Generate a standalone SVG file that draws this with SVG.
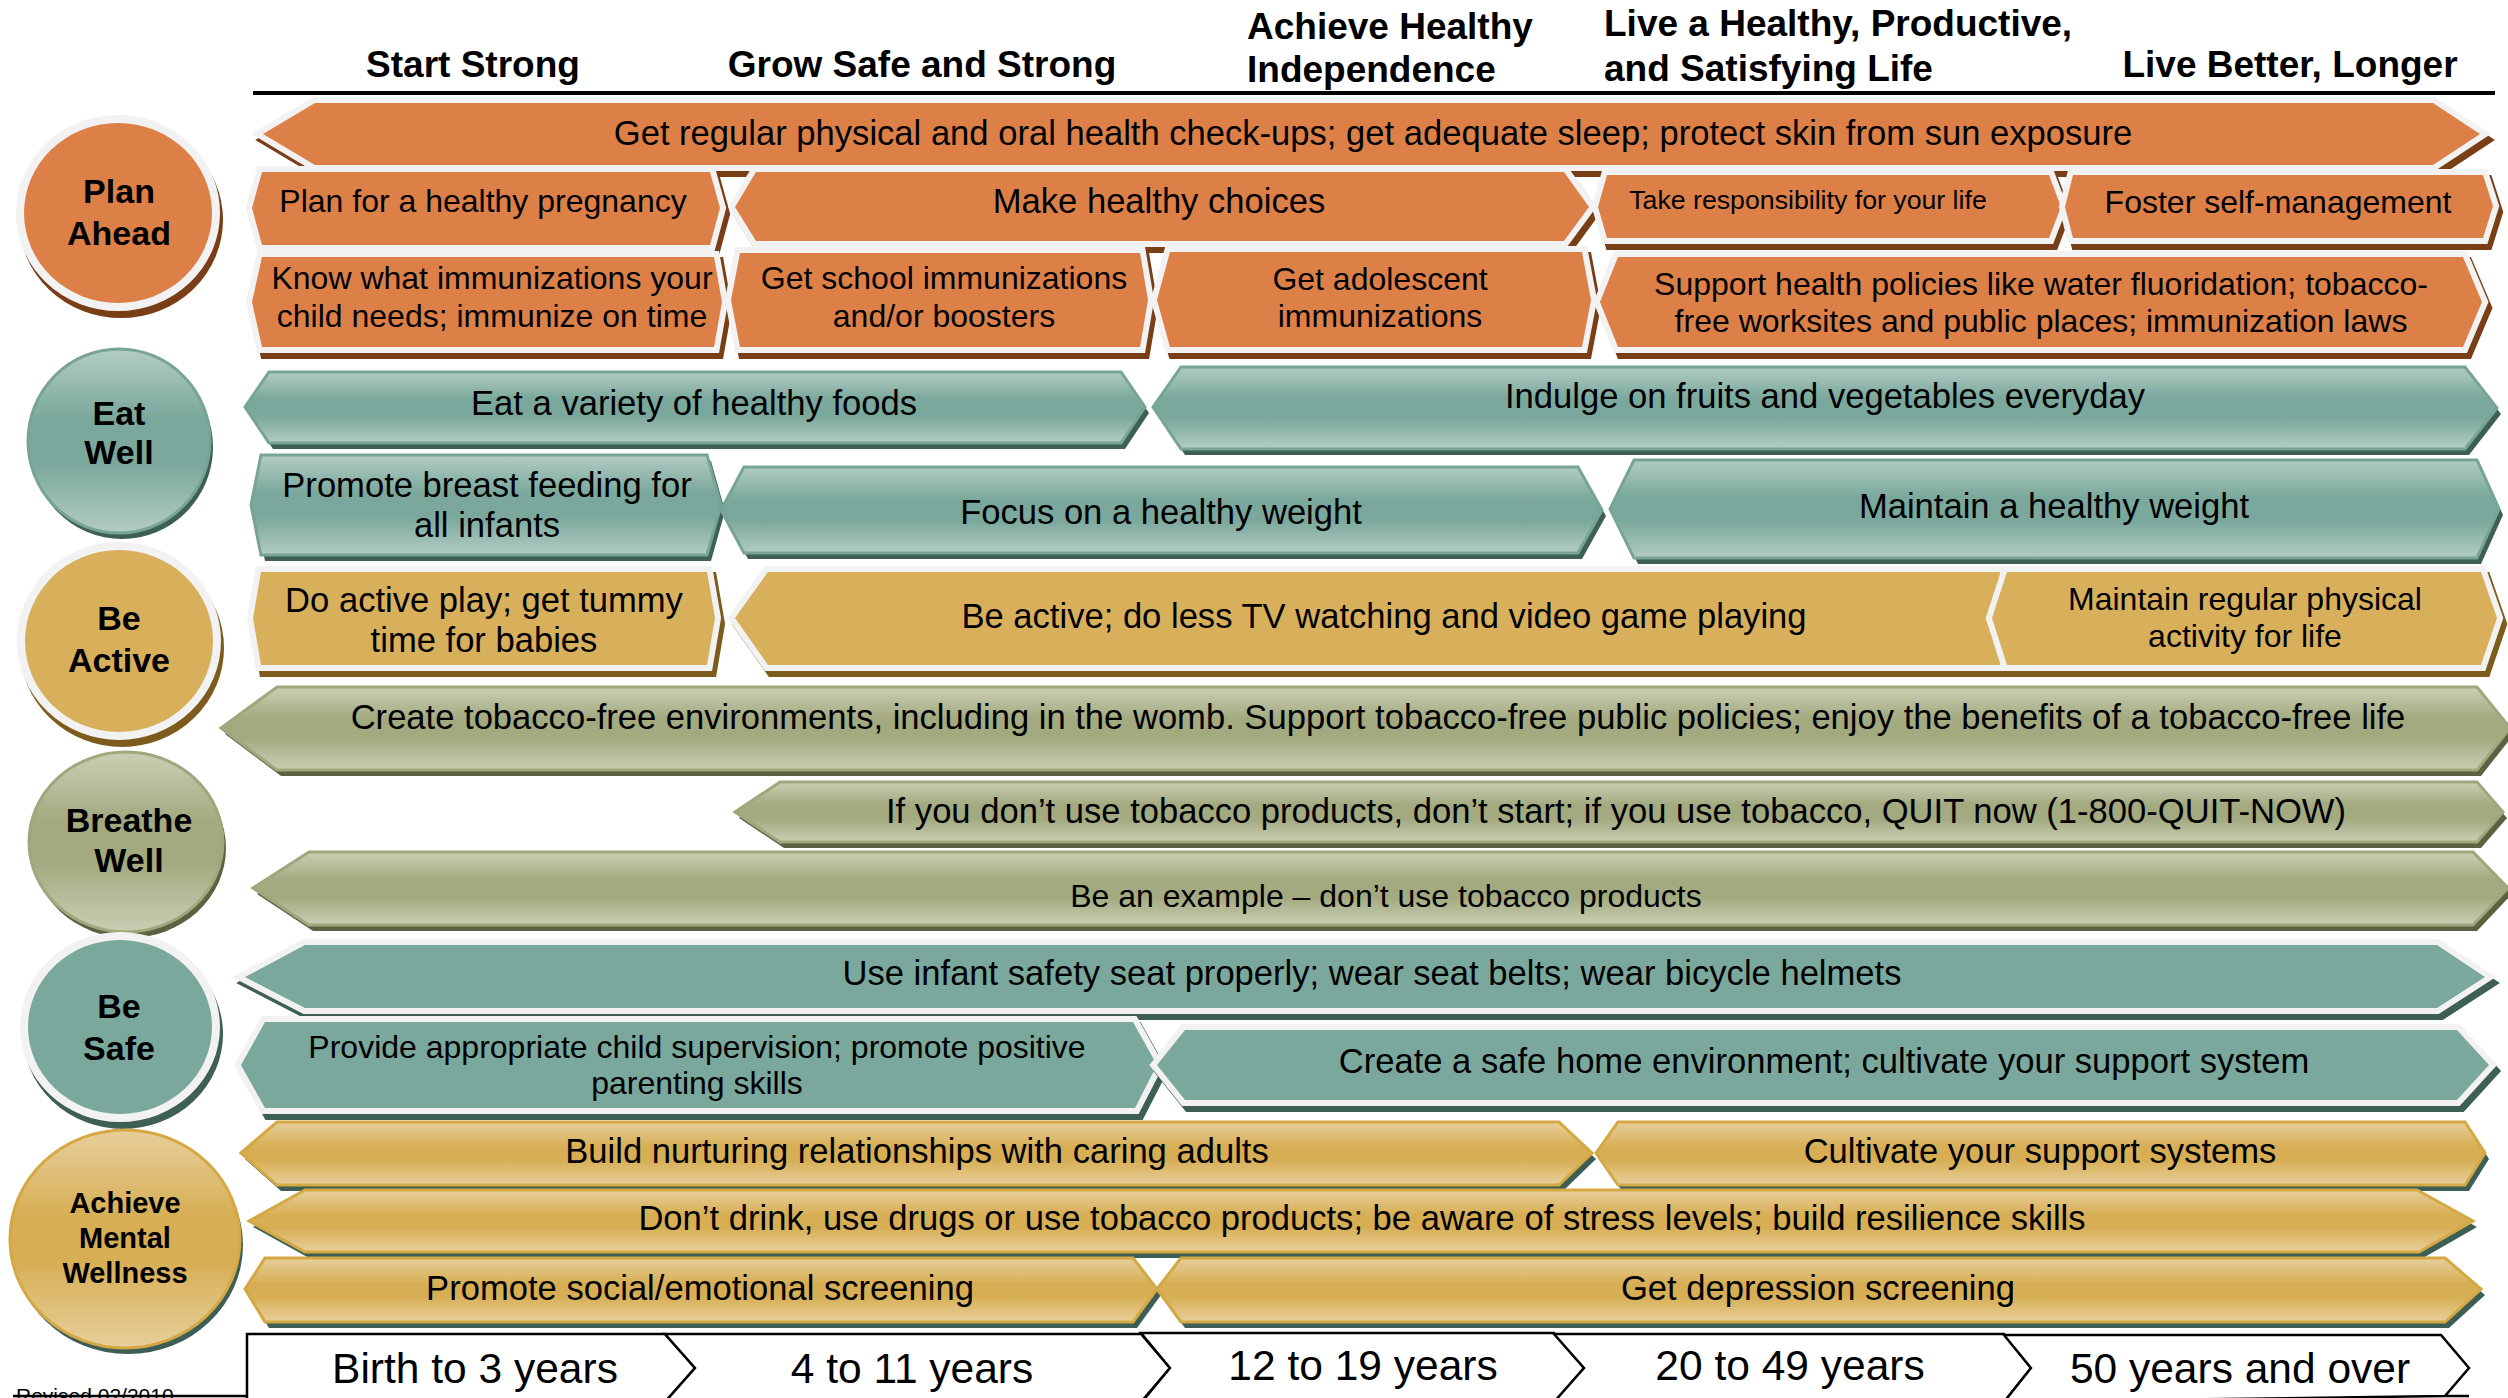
<svg xmlns="http://www.w3.org/2000/svg" width="2508" height="1398" viewBox="0 0 2508 1398">
<defs>
<linearGradient id="gTeal" x1="0" y1="0" x2="0" y2="1">
<stop offset="0" stop-color="#b2ccc5"/><stop offset="0.38" stop-color="#7ba89c"/><stop offset="0.62" stop-color="#7ba89c"/><stop offset="1" stop-color="#b2ccc5"/>
</linearGradient>
<linearGradient id="gKhaki" x1="0" y1="0" x2="0" y2="1">
<stop offset="0" stop-color="#cacfb4"/><stop offset="0.38" stop-color="#a3aa80"/><stop offset="0.62" stop-color="#a3aa80"/><stop offset="1" stop-color="#cacfb4"/>
</linearGradient>
<linearGradient id="gGold" x1="0" y1="0" x2="0" y2="1">
<stop offset="0" stop-color="#e7cf9c"/><stop offset="0.4" stop-color="#d7ae54"/><stop offset="0.6" stop-color="#d7ae54"/><stop offset="1" stop-color="#e7cf9c"/>
</linearGradient>
<style>
.o{fill:#dd8048;stroke:#f2f2f2;stroke-width:12;paint-order:stroke}
.os{fill:#7a3e17;stroke:#7a3e17;stroke-width:12}
.g{fill:#d8b05c;stroke:#f2f2f2;stroke-width:12;paint-order:stroke}
.gs{fill:#7c5b1c;stroke:#7c5b1c;stroke-width:12}
.s{fill:#7ba89c;stroke:#f2f2f2;stroke-width:12;paint-order:stroke}
.ss{fill:#3e5f56;stroke:#3e5f56;stroke-width:12}
.e{fill:url(#gTeal);stroke:#78a498;stroke-width:3}
.es{fill:#3e5f56}
.k{fill:url(#gKhaki);stroke:#a0a77c;stroke-width:3}
.ks{fill:#5a6242}
.m{fill:url(#gGold);stroke:#d4a843;stroke-width:3}
.ms{fill:#3d5e55}
.oc{fill:#dd8048;stroke:#f2f2f2;stroke-width:16;paint-order:stroke}
.gc{fill:#d8b05c;stroke:#f2f2f2;stroke-width:16;paint-order:stroke}
.sc{fill:#7ba89c;stroke:#f2f2f2;stroke-width:16;paint-order:stroke}
text{font-family:"Liberation Sans",Arial,sans-serif;fill:#000}
.t{font-size:32px;text-anchor:middle}
.tl{font-size:34.6px;text-anchor:middle}
.h{font-size:37px;font-weight:bold}
.hm{font-size:37px;font-weight:bold;text-anchor:middle}
.c{font-size:34px;font-weight:bold;text-anchor:middle}
.cm{font-size:29px;font-weight:bold;text-anchor:middle}
.a{font-size:42.5px;text-anchor:middle}
.age{fill:#fff;stroke:#000;stroke-width:2.5}
</style>
</defs>
<rect width="2508" height="1398" fill="#fff"/>

<g id="header">
<line x1="253" y1="93" x2="2495" y2="93" stroke="#000" stroke-width="4"/>
<text class="hm" x="473" y="77">Start Strong</text>
<text class="hm" x="922" y="77">Grow Safe and Strong</text>
<text class="h" x="1247" y="39">Achieve Healthy</text>
<text class="h" x="1247" y="82">Independence</text>
<text class="h" x="1604" y="36">Live a Healthy, Productive,</text>
<text class="h" x="1604" y="81">and Satisfying Life</text>
<text class="hm" x="2290" y="77">Live Better, Longer</text>
</g>

<!-- Circles -->
<g id="plan-ahead">
<ellipse class="os" cx="121" cy="220" rx="96" ry="92"/>
<ellipse class="oc" cx="118" cy="213" rx="94" ry="90"/>
<text class="c" x="119" y="203">Plan</text>
<text class="c" x="119" y="245">Ahead</text>
</g>
<g id="eat-well">
<ellipse class="es" cx="122" cy="447" rx="91" ry="92"/>
<ellipse class="e" cx="119" cy="441" rx="91" ry="92"/>
<text class="c" x="119" y="425">Eat</text>
<text class="c" x="119" y="464">Well</text>
</g>
<g id="be-active">
<ellipse class="gs" cx="122" cy="648" rx="96" ry="93"/>
<ellipse class="gc" cx="119" cy="641" rx="94" ry="91"/>
<text class="c" x="119" y="630">Be</text>
<text class="c" x="119" y="672">Active</text>
</g>
<g id="breathe-well">
<ellipse class="ks" cx="129" cy="848" rx="97" ry="90"/>
<ellipse class="k" cx="126" cy="842" rx="97" ry="90"/>
<text class="c" x="129" y="832">Breathe</text>
<text class="c" x="129" y="872">Well</text>
</g>
<g id="be-safe">
<ellipse class="ss" cx="123" cy="1034" rx="94" ry="89"/>
<ellipse class="sc" cx="120" cy="1027" rx="92" ry="87"/>
<text class="c" x="119" y="1018">Be</text>
<text class="c" x="119" y="1060">Safe</text>
</g>
<g id="mental-wellness">
<ellipse class="ms" cx="128" cy="1245" rx="115" ry="109"/>
<ellipse class="m" cx="125" cy="1239" rx="115" ry="109"/>
<text class="cm" x="125" y="1213">Achieve</text>
<text class="cm" x="125" y="1248">Mental</text>
<text class="cm" x="125" y="1283">Wellness</text>
</g>

<!-- Plan Ahead row -->
<g id="a1">
<polygon class="os" transform="translate(4,6)" points="263,134 315,103 2433,103 2480,134 2433,165 315,165"/>
<polygon class="o" points="263,134 315,103 2433,103 2480,134 2433,165 315,165"/>
<text class="tl" x="1373" y="145">Get regular physical and oral health check-ups; get adequate sleep; protect skin from sun exposure</text>
</g>
<g id="a2">
<polygon class="os" transform="translate(4,6)" points="252,208 262,172 710,172 720,208 710,245 262,245"/>
<polygon class="o" points="252,208 262,172 710,172 720,208 710,245 262,245"/>
<text class="t" x="483" y="212">Plan for a healthy pregnancy</text>
</g>
<g id="a3">
<polygon class="os" transform="translate(4,6)" points="735,207 756,172 1564,172 1589,207 1564,241 756,241"/>
<polygon class="o" points="735,207 756,172 1564,172 1589,207 1564,241 756,241"/>
<text class="tl" x="1159" y="213">Make healthy choices</text>
</g>
<g id="a4">
<polygon class="os" transform="translate(4,6)" points="1598,207 1607,175 2049,175 2061,207 2049,238 1607,238"/>
<polygon class="o" points="1598,207 1607,175 2049,175 2061,207 2049,238 1607,238"/>
<text x="1808" y="209" style="font-size:26.7px;text-anchor:middle">Take responsibility for your life</text>
</g>
<g id="a5">
<polygon class="os" transform="translate(4,6)" points="2065,207 2073,175 2483,175 2493,206 2483,238 2073,238"/>
<polygon class="o" points="2065,207 2073,175 2483,175 2493,206 2483,238 2073,238"/>
<text class="t" x="2278" y="213">Foster self-management</text>
</g>
<g id="a6">
<polygon class="os" transform="translate(4,6)" points="252,302 262,257 714,257 722,302 714,347 262,347"/>
<polygon class="o" points="252,302 262,257 714,257 722,302 714,347 262,347"/>
<text class="t" x="492" y="289">Know what immunizations your</text>
<text class="t" x="492" y="327">child needs; immunize on time</text>
</g>
<g id="a7">
<polygon class="os" transform="translate(4,6)" points="731,300 740,253 1140,253 1148,300 1140,347 740,347"/>
<polygon class="o" points="731,300 740,253 1140,253 1148,300 1140,347 740,347"/>
<text class="t" x="944" y="289">Get school immunizations</text>
<text class="t" x="944" y="327">and/or boosters</text>
</g>
<g id="a8">
<polygon class="os" transform="translate(4,6)" points="1157,300 1170,252 1582,252 1591,300 1582,347 1170,347"/>
<polygon class="o" points="1157,300 1170,252 1582,252 1591,300 1582,347 1170,347"/>
<text class="t" x="1380" y="290">Get adolescent</text>
<text class="t" x="1380" y="327">immunizations</text>
</g>
<g id="a9">
<polygon class="os" transform="translate(4,6)" points="1600,302 1618,257 2463,257 2482,302 2463,347 1618,347"/>
<polygon class="o" points="1600,302 1618,257 2463,257 2482,302 2463,347 1618,347"/>
<text class="t" x="2041" y="295">Support health policies like water fluoridation; tobacco-</text>
<text class="t" x="2041" y="332">free worksites and public places; immunization laws</text>
</g>

<!-- Eat Well row -->
<g id="b1">
<polygon class="es" transform="translate(4,6)" points="245,407 269,372 1121,372 1145,407 1121,443 269,443"/>
<polygon class="e" points="245,407 269,372 1121,372 1145,407 1121,443 269,443"/>
<text class="tl" x="694" y="415">Eat a variety of healthy foods</text>
</g>
<g id="b2">
<polygon class="es" transform="translate(4,6)" points="1153,407 1181,367 2465,367 2497,408 2465,449 1181,449"/>
<polygon class="e" points="1153,407 1181,367 2465,367 2497,408 2465,449 1181,449"/>
<text class="tl" x="1825" y="408">Indulge on fruits and vegetables everyday</text>
</g>
<g id="b3">
<polygon class="es" transform="translate(4,6)" points="251,505 261,455 707,455 721,505 707,555 261,555"/>
<polygon class="e" points="251,505 261,455 707,455 721,505 707,555 261,555"/>
<text class="tl" x="487" y="497">Promote breast feeding for</text>
<text class="tl" x="487" y="537">all infants</text>
</g>
<g id="b4">
<polygon class="es" transform="translate(4,6)" points="721,510 744,467 1578,467 1602,510 1578,553 744,553"/>
<polygon class="e" points="721,510 744,467 1578,467 1602,510 1578,553 744,553"/>
<text class="tl" x="1161" y="524">Focus on a healthy weight</text>
</g>
<g id="b5">
<polygon class="es" transform="translate(4,6)" points="1610,509 1634,460 2477,460 2499,509 2477,558 1634,558"/>
<polygon class="e" points="1610,509 1634,460 2477,460 2499,509 2477,558 1634,558"/>
<text class="tl" x="2054" y="518">Maintain a healthy weight</text>
</g>

<!-- Be Active row -->
<g id="c1">
<polygon class="gs" transform="translate(4,6)" points="253,618 261,572 707,572 715,618 707,665 261,665"/>
<polygon class="g" points="253,618 261,572 707,572 715,618 707,665 261,665"/>
<text class="tl" x="484" y="612">Do active play; get tummy</text>
<text class="tl" x="484" y="652">time for babies</text>
</g>
<g id="c2">
<polygon class="gs" transform="translate(4,6)" points="735,618 768,572 2000,572 2000,665 768,665"/>
<polygon class="g" points="735,618 768,572 2000,572 2000,665 768,665"/>
<text class="tl" x="1384" y="628">Be active; do less TV watching and video game playing</text>
</g>
<g id="c3">
<polygon class="gs" transform="translate(4,6)" points="1992,618 2007,572 2481,572 2497,618 2481,665 2007,665"/>
<polygon class="g" points="1992,618 2007,572 2481,572 2497,618 2481,665 2007,665"/>
<text class="t" x="2245" y="610">Maintain regular physical</text>
<text class="t" x="2245" y="647">activity for life</text>
</g>

<!-- Breathe Well row -->
<g id="d1">
<polygon class="ks" transform="translate(4,6)" points="221,728 277,687 2477,687 2510,728 2477,770 277,770"/>
<polygon class="k" points="221,728 277,687 2477,687 2510,728 2477,770 277,770"/>
<text class="tl" x="1378" y="729">Create tobacco-free environments, including in the womb. Support tobacco-free public policies; enjoy the benefits of a tobacco-free life</text>
</g>
<g id="d2">
<polygon class="ks" transform="translate(4,6)" points="735,812 780,782 2477,782 2503,812 2477,842 780,842"/>
<polygon class="k" points="735,812 780,782 2477,782 2503,812 2477,842 780,842"/>
<text class="tl" x="1616" y="823">If you don’t use tobacco products, don’t start; if you use tobacco, QUIT now (1-800-QUIT-NOW)</text>
</g>
<g id="d3">
<polygon class="ks" transform="translate(4,6)" points="253,888 309,852 2473,852 2508,888 2473,925 309,925"/>
<polygon class="k" points="253,888 309,852 2473,852 2508,888 2473,925 309,925"/>
<text class="t" x="1386" y="907">Be an example – don’t use tobacco products</text>
</g>

<!-- Be Safe row -->
<g id="e1">
<polygon class="ss" transform="translate(4,6)" points="245,977 305,945 2437,945 2485,977 2437,1008 305,1008"/>
<polygon class="s" points="245,977 305,945 2437,945 2485,977 2437,1008 305,1008"/>
<text class="tl" x="1372" y="985">Use infant safety seat properly; wear seat belts; wear bicycle helmets</text>
</g>
<g id="e2">
<polygon class="ss" transform="translate(4,6)" points="241,1065 265,1022 1133,1022 1157,1065 1135,1108 265,1108"/>
<polygon class="s" points="241,1065 265,1022 1133,1022 1157,1065 1135,1108 265,1108"/>
<text class="t" x="697" y="1058">Provide appropriate child supervision; promote positive</text>
<text class="t" x="697" y="1094">parenting skills</text>
</g>
<g id="e3">
<polygon class="ss" transform="translate(4,6)" points="1157,1065 1185,1030 2457,1030 2489,1065 2457,1100 1185,1100"/>
<polygon class="s" points="1157,1065 1185,1030 2457,1030 2489,1065 2457,1100 1185,1100"/>
<text class="tl" x="1824" y="1073">Create a safe home environment; cultivate your support system</text>
</g>

<!-- Mental Wellness row -->
<g id="f1">
<polygon class="ms" transform="translate(4,6)" points="241,1153 277,1122 1559,1122 1592,1153 1559,1185 277,1185"/>
<polygon class="m" points="241,1153 277,1122 1559,1122 1592,1153 1559,1185 277,1185"/>
<text class="tl" x="917" y="1163">Build nurturing relationships with caring adults</text>
</g>
<g id="f2">
<polygon class="ms" transform="translate(4,6)" points="1596,1153 1618,1122 2465,1122 2485,1153 2465,1185 1618,1185"/>
<polygon class="m" points="1596,1153 1618,1122 2465,1122 2485,1153 2465,1185 1618,1185"/>
<text class="tl" x="2040" y="1163">Cultivate your support systems</text>
</g>
<g id="f3">
<polygon class="ms" transform="translate(4,6)" points="249,1221 305,1190 2417,1190 2473,1221 2419,1252 305,1252"/>
<polygon class="m" points="249,1221 305,1190 2417,1190 2473,1221 2419,1252 305,1252"/>
<text class="tl" x="1362" y="1230">Don’t drink, use drugs or use tobacco products; be aware of stress levels; build resilience skills</text>
</g>
<g id="f4">
<polygon class="ms" transform="translate(4,6)" points="245,1289 265,1258 1133,1258 1157,1289 1133,1322 265,1322"/>
<polygon class="m" points="245,1289 265,1258 1133,1258 1157,1289 1133,1322 265,1322"/>
<text class="tl" x="700" y="1300">Promote social/emotional screening</text>
</g>
<g id="f5">
<polygon class="ms" transform="translate(4,6)" points="1157,1289 1181,1258 2445,1258 2481,1289 2445,1322 1181,1322"/>
<polygon class="m" points="1157,1289 1181,1258 2445,1258 2481,1289 2445,1322 1181,1322"/>
<text class="tl" x="1818" y="1300">Get depression screening</text>
</g>

<!-- Age strip -->
<g id="age-birth-3">
<polygon class="age" points="247,1334 665,1334 695,1368 665,1402 247,1402"/>
<text class="a" x="475" y="1383">Birth to 3 years</text>
</g>
<g id="age-4-11">
<polygon class="age" points="665,1334 1141,1334 1170,1368 1141,1402 665,1402 695,1368"/>
<text class="a" x="912" y="1383">4 to 11 years</text>
</g>
<g id="age-12-19">
<polygon class="age" points="1141,1333 1554,1333 1584,1368 1554,1403 1141,1403 1170,1368"/>
<text class="a" x="1363" y="1380">12 to 19 years</text>
</g>
<g id="age-20-49">
<polygon class="age" points="1554,1334 2004,1334 2031,1368 2004,1402 1554,1402 1584,1368"/>
<text class="a" x="1790" y="1380">20 to 49 years</text>
</g>
<g id="age-50-over">
<polygon class="age" points="2004,1335 2441,1335 2469,1368 2445,1396 2469,1396 2445,1396 2004,1402 2031,1368"/>
<text class="a" x="2240" y="1383">50 years and over</text>
</g>
<g id="revised">
<line x1="13" y1="1396" x2="247" y2="1396" stroke="#000" stroke-width="2.5"/>
<text x="16" y="1403" style="font-size:21px">Revised 02/2010</text>
</g>
</svg>
